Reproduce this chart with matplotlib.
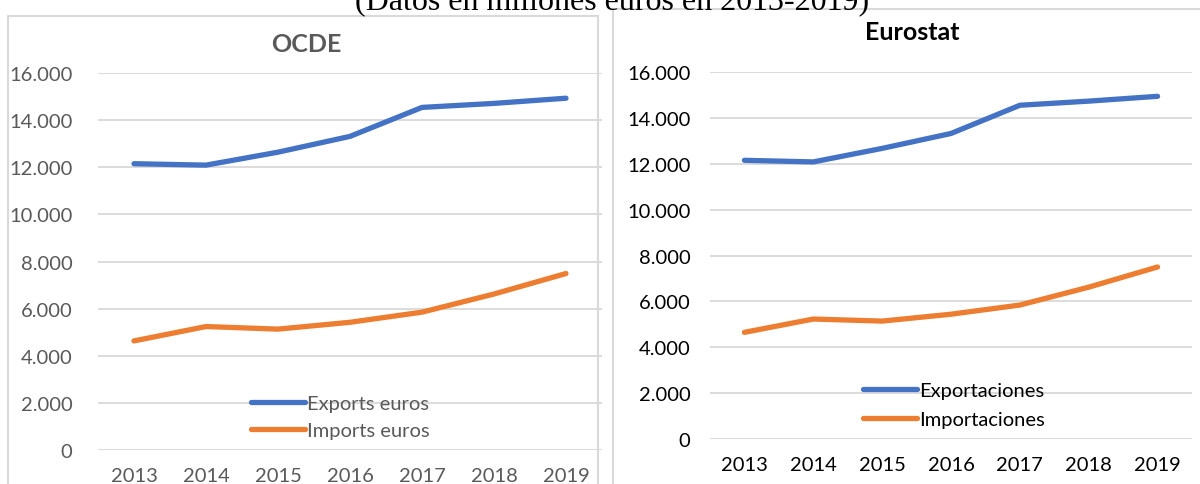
import matplotlib
matplotlib.use("Agg")
import matplotlib.pyplot as plt
from matplotlib.patches import Rectangle
from matplotlib.ticker import FuncFormatter

# Data (millones de euros)
years = ["2013", "2014", "2015", "2016", "2017", "2018", "2019"]
ocde_exports = [12150, 12090, 12640, 13310, 14540, 14710, 14930]
ocde_imports = [4630, 5240, 5130, 5420, 5850, 6620, 7490]
euro_exports = [12150, 12080, 12670, 13320, 14550, 14730, 14940]
euro_imports = [4650, 5230, 5140, 5440, 5840, 6620, 7500]

y_ticks = [0, 2000, 4000, 6000, 8000, 10000, 12000, 14000, 16000]

BLUE = "#4472C4"
ORANGE = "#ED7D31"
GRID = "#D9D9D9"

W, H = 1200, 485
plt.rcParams['font.family'] = ['Lato', 'DejaVu Sans']
fig = plt.figure(figsize=(W / 100, H / 100), dpi=100)


def box(x0, y0, x1, y1):
    # pixel coords (top-left origin) -> figure fractions
    return [x0 / W, 1 - y1 / H, (x1 - x0) / W, (y1 - y0) / H]


def thousands(v, pos):
    return f"{int(v):,}".replace(",", ".")


# panel frames
fig.patches.append(Rectangle((8 / W, -0.1), 590 / W, 1.1 - 17 / H,
                             transform=fig.transFigure, fill=False,
                             edgecolor=GRID, lw=1.5))
fig.patches.append(Rectangle((613 / W, -0.1), 600 / W, 1.1 - 10 / H,
                             transform=fig.transFigure, fill=False,
                             edgecolor=GRID, lw=1.5))

# caption cut at the top
fig.text(612 / W, 1 - 9 / H, "(Datos en millones euros en 2013-2019)",
         family="Liberation Serif", fontsize=23, ha="center", va="baseline")


def panel(rect, exp, imp, title, title_xy, tcolor, ypad, labels, leg_xy, lsp):
    ax = fig.add_axes(box(*rect))
    x = range(len(years))
    ax.plot(x, exp, color=BLUE, lw=3.8, solid_capstyle="round", label=labels[0])
    ax.plot(x, imp, color=ORANGE, lw=3.8, solid_capstyle="round", label=labels[1])
    ax.set_xlim(-0.5, len(years) - 0.5)
    ax.set_ylim(0, 16000)
    ax.set_yticks(y_ticks)
    ax.yaxis.set_major_formatter(FuncFormatter(thousands))
    ax.set_xticks(list(x))
    ax.set_xticklabels(years)
    ax.grid(axis="y", color=GRID, lw=1.3)
    ax.set_axisbelow(True)
    for s in ax.spines.values():
        s.set_visible(False)
    ax.tick_params(length=0, labelsize=14.5, labelcolor=tcolor)
    ax.tick_params(axis="y", pad=ypad)
    ax.tick_params(axis="x", pad=12)
    fig.text(title_xy[0] / W, 1 - title_xy[1] / H, title, fontsize=18,
             fontweight="bold", color=tcolor, ha="center", va="center")
    leg = ax.legend(loc="center left", bbox_to_anchor=(leg_xy[0] / W, 1 - leg_xy[1] / H),
                    bbox_transform=fig.transFigure, frameon=False,
                    fontsize=14.5, handlelength=2.7, handletextpad=0.1,
                    labelspacing=lsp, borderpad=0)
    for t in leg.get_texts():
        t.set_color(tcolor)
    return ax


panel((98, 74, 602, 451), ocde_exports, ocde_imports, "OCDE", (306, 44),
      "#595959", 18.5, ["Exports euros", "Imports euros"], (241, 418), 0.5)
panel((710, 73, 1192, 440), euro_exports, euro_imports, "Eurostat", (912, 32),
      "#000000", 14, ["Exportaciones", "Importaciones"], (853, 406), 0.62)

fig.savefig("out.png", dpi=100)
